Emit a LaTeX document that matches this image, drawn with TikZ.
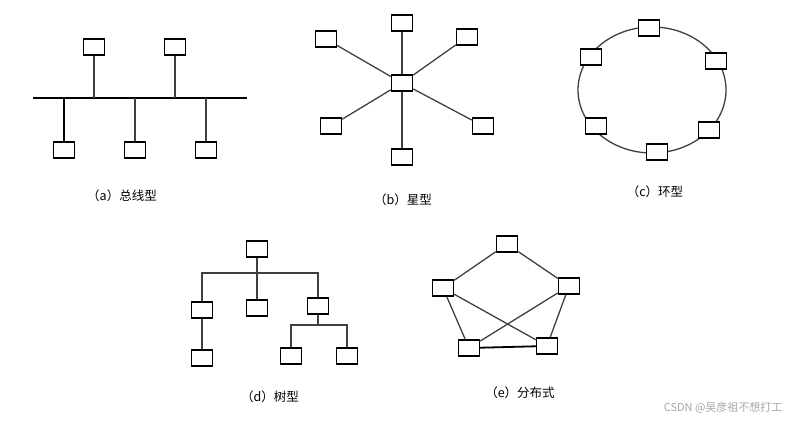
\documentclass[tikz,border=0pt]{standalone}
\usepackage{fontspec}
\newfontfamily\cjk{Noto Sans CJK SC}
\usetikzlibrary{positioning}

\begin{document}
\begin{tikzpicture}[x=1pt,y=-1pt,
  pc/.style={draw,line width=1.4pt,fill=white,minimum width=21pt,minimum height=16pt,inner sep=0pt},
  wire/.style={line width=1.3pt,black!75},
  caption/.style={font=\cjk\fontsize{12.5}{14}\selectfont}]
\useasboundingbox (0,0) rectangle (791,422);

% (a) bus
\coordinate (busL) at (33,98);
\coordinate (busR) at (247,98);
\draw[line width=2.4pt] (busL) -- (busR);
\node[pc] (a1) at (94,47) {};
\node[pc] (a2) at (175,47) {};
\node[pc] (a3) at (64,150) {};
\node[pc] (a4) at (135,150) {};
\node[pc] (a5) at (206,150) {};
\draw[wire] (a1) -- (a1 |- busL);
\draw[wire] (a2) -- (a2 |- busL);
\draw[line width=1.8pt] (a3) -- (a3 |- busL);
\draw[wire] (a4) -- (a4 |- busL);
\draw[wire] (a5) -- (a5 |- busL);
\node[caption] (capa) at (122,196) {（a）总线型};

% (b) star
\node[pc] (hub) at (402,83) {};
\node[pc] (b1) at (402,23) {};
\node[pc] (b2) at (326,39) {};
\node[pc] (b3) at (467,37) {};
\node[pc] (b4) at (331,126) {};
\node[pc] (b5) at (483,126) {};
\node[pc] (b6) at (402,157) {};
\foreach \b in {b1,b2,b3,b4,b5,b6}
  \draw[wire] (hub) -- (\b);
\node[caption] (capb) at (403,200) {（b）星型};

% (c) ring
\draw[wire] (652,90) ellipse (74 and 63);
\node[pc] (c1) at (649,28) {};
\node[pc] (c2) at (591,57) {};
\node[pc] (c3) at (716,61) {};
\node[pc] (c4) at (596,126) {};
\node[pc] (c5) at (709,130) {};
\node[pc] (c6) at (657,152) {};
\node[caption] (capc) at (655,192) {（c）环型};

% (d) tree
\node[pc] (root) at (257,249) {};
\node[pc] (d1) at (202,310) {};
\node[pc] (d2) at (257,308) {};
\node[pc] (d3) at (318,306) {};
\node[pc] (d4) at (202,358) {};
\node[pc] (d5) at (291,356) {};
\node[pc] (d6) at (347,356) {};
\coordinate (bar) at (257,273);
\coordinate (bar2) at (318,325);
\draw[wire] (root) -- (d2);
\draw[wire] (d1) -- (d1 |- bar) -- (d3 |- bar) -- (d3);
\draw[wire] (d1) -- (d4);
\draw[wire] (d3) -- (bar2);
\draw[wire] (d5) -- (d5 |- bar2) -- (d6 |- bar2) -- (d6);
\node[caption] (capd) at (270,397) {（d）树型};

% (e) distributed
\node[pc] (e1) at (507,244) {};
\node[pc] (e2) at (443,288) {};
\node[pc] (e3) at (569,286) {};
\node[pc] (e4) at (469,348) {};
\node[pc] (e5) at (547,346) {};
\draw[wire] (e1) -- (e2);
\draw[wire] (e1) -- (e3);
\draw[wire] (e2) -- (e4);
\draw[wire] (e2) -- (e5);
\draw[wire] (e3) -- (e4);
\draw[wire] (e3) -- (e5);
\draw[line width=1.8pt] (e4) -- (e5);
\node[caption] (cape) at (520,393) {（e）分布式};

\node[font=\cjk\fontsize{11}{13}\selectfont,text=black!35,anchor=east] (mark) at (786,408) {CSDN @吴彦祖不想打工};
\end{tikzpicture}
\end{document}
